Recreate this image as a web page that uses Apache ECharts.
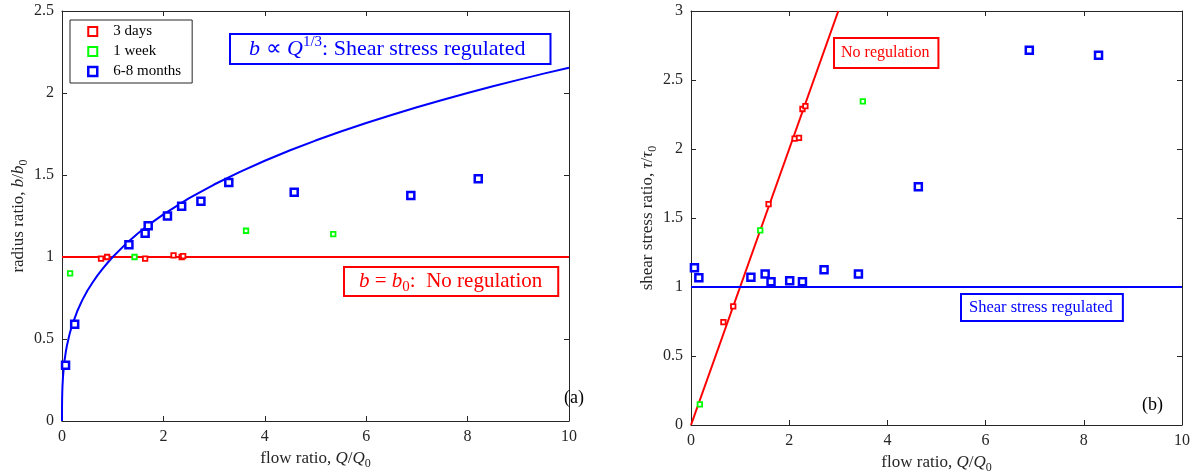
<!DOCTYPE html>
<html><head><meta charset="utf-8">
<script src="https://cdn.jsdelivr.net/npm/echarts@6/dist/echarts.min.js"></script>
<style>html,body{margin:0;padding:0;background:#fff}#c{width:1196px;height:474px}</style>
</head><body><div id="c"></div>
<script>
// ---- tick labels ----
const xTicks = [0, 2, 4, 6, 8, 10];
const yTicksA = [0, 0.5, 1, 1.5, 2, 2.5];
const yTicksB = [0, 0.5, 1, 1.5, 2, 2.5, 3];
const seriesNames = ['3 days', '1 week', '6-8 months'];

// ---- panel (a): radius ratio b/b0 vs Q/Q0 ----
const a3days = [[0.77,0.99],[0.89,1.0],[1.64,0.99],[2.20,1.01],[2.36,1.0],[2.39,1.005]];
const a1week = [[0.16,0.90],[1.43,1.0],[3.63,1.16],[5.35,1.14]];
const a6months = [[0.07,0.34],[0.25,0.59],[1.32,1.075],[1.64,1.145],[1.70,1.19],[2.08,1.25],[2.36,1.31],[2.74,1.34],[3.29,1.455],[4.58,1.395],[6.88,1.375],[8.21,1.477]];
const aNoRegLine = [[0,1],[10,1]];
// fitted curve (b proportional to Q^(1/3))
const aFitQ = [0,0.0005,0.001,0.003,0.006,0.01,0.02,0.035,0.05,0.075,0.1,0.15,0.2,0.3,0.4,0.5,0.6,0.7,0.8,0.9,1,1.25,1.5,1.75,2,2.5,3,3.5,4,4.5,5,5.5,6,6.5,7,7.5,8,8.5,9,9.5,10];
const aFitB = [0,0.079,0.1,0.144,0.182,0.215,0.271,0.327,0.368,0.422,0.464,0.531,0.585,0.669,0.737,0.794,0.843,0.888,0.928,0.965,1,1.077,1.145,1.205,1.26,1.357,1.442,1.518,1.587,1.651,1.71,1.765,1.817,1.866,1.913,1.957,2.0,2.041,2.08,2.118,2.154];

// ---- panel (b): shear stress ratio tau/tau0 vs Q/Q0 ----
const b3days = [[0.66,0.745],[0.86,0.86],[1.58,1.60],[2.11,2.075],[2.20,2.08],[2.27,2.29],[2.33,2.31]];
const b1week = [[0.18,0.15],[1.41,1.41],[3.50,2.345]];
const b6months = [[0.07,1.14],[0.16,1.067],[1.22,1.07],[1.51,1.094],[1.63,1.038],[2.01,1.046],[2.27,1.038],[2.71,1.125],[3.41,1.094],[4.63,1.727],[6.89,2.715],[8.30,2.68]];
const bNoRegLine = [[0,0],[3,3]];
const bRegLine = [[0,1],[10,1]];

const RED = '#ff0000', GREEN = '#00ff00', BLUE = '#0000ff';
const AX = '#262626';
const FONT = 'Liberation Serif';

function richSet(size, color) {
  return {
    r: {fontFamily: FONT, fontSize: size, color: color, lineHeight: size + 6},
    i: {fontFamily: FONT, fontSize: size, fontStyle: 'italic', color: color, lineHeight: size + 6},
    s: {fontFamily: FONT, fontSize: Math.round(size * 0.7), color: color, lineHeight: Math.round(size * 0.6), verticalAlign: 'bottom'},
    p: {fontFamily: FONT, fontSize: Math.round(size * 0.68), color: color, lineHeight: Math.round(size * 0.6), verticalAlign: 'top'}
  };
}

function mainAxis(grid, ticks, pos, name, nameGap) {
  return {
    type: 'value', gridIndex: grid, position: pos,
    min: ticks[0], max: ticks[ticks.length - 1], interval: ticks[1] - ticks[0],
    axisLine: {show: true, onZero: false, lineStyle: {color: AX, width: 1}},
    axisTick: {show: true, inside: true, length: 5, lineStyle: {color: AX, width: 1}},
    axisLabel: {show: true, color: AX, fontFamily: FONT, fontSize: 16, margin: 8},
    splitLine: {show: false},
    name: name, nameLocation: 'middle', nameGap: nameGap,
    nameTextStyle: {color: AX, fontFamily: FONT, fontSize: 17, rich: richSet(17, AX)}
  };
}
function mirrorAxis(grid, ticks, pos) {
  return {
    type: 'value', gridIndex: grid, position: pos,
    min: ticks[0], max: ticks[ticks.length - 1], interval: ticks[1] - ticks[0],
    axisLine: {show: true, onZero: false, lineStyle: {color: AX, width: 1}},
    axisTick: {show: true, inside: true, length: 5, lineStyle: {color: AX, width: 1}},
    axisLabel: {show: false}, splitLine: {show: false}
  };
}
function scatter(name, data, color, big, xi, yi) {
  return {
    type: 'scatter', name: name, data: data, xAxisIndex: xi, yAxisIndex: yi,
    symbol: 'rect', symbolSize: big ? 7 : 4.5, z: 5,
    itemStyle: {color: '#ffffff', borderColor: color, borderWidth: big ? 2.5 : 1.8, opacity: 1}
  };
}
function line(data, color, xi, yi) {
  return {
    type: 'line', data: data, xAxisIndex: xi, yAxisIndex: yi, showSymbol: false, symbol: 'none',
    lineStyle: {color: color, width: 2}, z: 3, silent: true
  };
}

const chart = echarts.init(document.getElementById('c'), null, {renderer: 'canvas'});
const fitData = aFitQ.map((q, k) => [q, aFitB[k]]);

const option = {
  animation: false,
  backgroundColor: '#ffffff',
  grid: [
    {left: 62, right: 627, top: 11, bottom: 53, containLabel: false, outerBoundsMode: 'none'},
    {left: 691, right: 14, top: 11, bottom: 49, containLabel: false, outerBoundsMode: 'none'}
  ],
  xAxis: [
    mainAxis(0, xTicks, 'bottom', '{r|flow ratio, }{i|Q}{r|/}{i|Q}{s|0}', 26),
    mirrorAxis(0, xTicks, 'top'),
    mainAxis(1, xTicks, 'bottom', '{r|flow ratio, }{i|Q}{r|/}{i|Q}{s|0}', 26),
    mirrorAxis(1, xTicks, 'top')
  ],
  yAxis: [
    mainAxis(0, yTicksA, 'left', '{r|radius ratio, }{i|b}{r|/}{i|b}{s|0}', 32),
    mirrorAxis(0, yTicksA, 'right'),
    mainAxis(1, yTicksB, 'left', '{r|shear stress ratio, }{i|τ}{r|/}{i|τ}{s|0}', 32),
    mirrorAxis(1, yTicksB, 'right')
  ],
  legend: {
    show: true, orient: 'vertical', left: 70, top: 20,
    padding: [4, 11, 4, 17], itemWidth: 9, itemHeight: 9, itemGap: 5,
    borderColor: AX, borderWidth: 1, backgroundColor: '#ffffff',
    textStyle: {fontFamily: FONT, fontSize: 15, color: '#000', padding: [0, 0, 0, 11]},
    data: [
      {name: seriesNames[0], icon: 'rect', itemStyle: {color: '#fff', borderColor: RED, borderWidth: 2}},
      {name: seriesNames[1], icon: 'rect', itemStyle: {color: '#fff', borderColor: GREEN, borderWidth: 2}},
      {name: seriesNames[2], icon: 'rect', itemStyle: {color: '#fff', borderColor: BLUE, borderWidth: 2.5}}
    ]
  },
  series: [
    line(aNoRegLine, RED, 0, 0),
    line(fitData, BLUE, 0, 0),
    scatter(seriesNames[0], a3days, RED, false, 0, 0),
    scatter(seriesNames[1], a1week, GREEN, false, 0, 0),
    scatter(seriesNames[2], a6months, BLUE, true, 0, 0),
    line(bNoRegLine, RED, 2, 2),
    line(bRegLine, BLUE, 2, 2),
    scatter(seriesNames[0], b3days, RED, false, 2, 2),
    scatter(seriesNames[1], b1week, GREEN, false, 2, 2),
    scatter(seriesNames[2], b6months, BLUE, true, 2, 2)
  ],
  graphic: [
    {type: 'text', left: 229, top: 33, z: 10,
     style: {text: '{i|b}{r| ∝ }{i|Q}{p|1/3}{r|: Shear stress regulated}', rich: richSet(22, BLUE),
       fill: BLUE, backgroundColor: '#fff', borderColor: BLUE, borderWidth: 2, padding: [0, 24, 0, 18]}},
    {type: 'text', left: 343, top: 266, z: 10,
     style: {text: '{i|b}{r| = }{i|b}{s|0}{r|:  No regulation}', rich: richSet(21, RED),
       fill: RED, backgroundColor: '#fff', borderColor: RED, borderWidth: 2, padding: [0, 15, 0, 14]}},
    {type: 'text', left: 564, top: 389, z: 10,
     style: {text: '(a)', fill: '#000', font: '18px "Liberation Serif"'}},
    {type: 'text', left: 833, top: 37, z: 10,
     style: {text: 'No regulation', fill: RED, font: '16px "Liberation Serif"',
       backgroundColor: '#fff', borderColor: RED, borderWidth: 2, padding: [6, 8, 6, 6]}},
    {type: 'text', left: 960, top: 293, z: 10,
     style: {text: 'Shear stress regulated', fill: BLUE, font: '16.5px "Liberation Serif"',
       backgroundColor: '#fff', borderColor: BLUE, borderWidth: 2, padding: [4, 9, 4, 7]}},
    {type: 'text', left: 1142, top: 396, z: 10,
     style: {text: '(b)', fill: '#000', font: '18px "Liberation Serif"'}}
  ]
};
chart.setOption(option);
</script>
</body></html>
